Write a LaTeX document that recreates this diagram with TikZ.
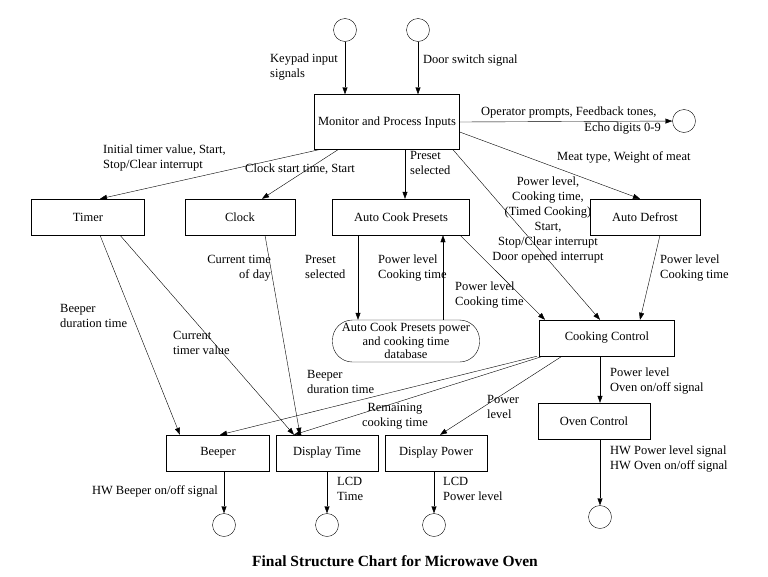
\documentclass[tikz,border=0pt]{standalone}
\usepackage{fontspec}
\setmainfont{Liberation Serif}
\usetikzlibrary{arrows.meta}
\begin{document}
\begin{tikzpicture}[x=1pt,y=-1pt,font=\fontsize{12.5}{15}\selectfont,
	>={Triangle[length=7pt,width=5pt]},
	proc/.style={draw,minimum height=36pt,inner sep=2pt},
	term/.style={draw,circle,minimum size=23pt,inner sep=0pt},
	lbl/.style={align=left,anchor=north west,inner sep=0pt}]
	\useasboundingbox (0,0) rectangle (768,576);
	
	\node[term] (kin) at (345,30) {};
	\node[term] (din) at (418,30) {};
	\node[term] (opr) at (684,121) {};
	\node[proc,minimum width=145pt,minimum height=55pt] (mon) at (387,122) {Monitor and Process Inputs};
	\node[proc,minimum width=113pt] (tim) at (88,217) {Timer};
	\node[proc,minimum width=110pt] (clk) at (240,217) {Clock};
	\node[proc,minimum width=137pt] (acp) at (401,217) {Auto Cook Presets};
	\node[proc,minimum width=110pt] (adf) at (645,217) {Auto Defrost};
	\node[draw,rounded corners=20pt,minimum width=147pt,minimum height=42pt,align=center,inner sep=0pt,font=\fontsize{12.5}{13.5}\selectfont] (db) at (406,341) {Auto Cook Presets power\\and cooking time\\database};
	\node[proc,minimum width=135pt] (cc) at (607,338) {Cooking Control};
	\node[proc,minimum width=112pt] (oc) at (594,421) {Oven Control};
	\node[proc,minimum width=103pt] (bp) at (218,453) {Beeper};
	\node[proc,minimum width=102pt] (dt) at (327,453) {Display Time};
	\node[proc,minimum width=102pt] (dp) at (436,453) {Display Power};
	\node[term] (bpo) at (224,525) {};
	\node[term] (dto) at (327,525) {};
	\node[term] (dpo) at (434,525) {};
	\node[term] (oco) at (600,517) {};
	
	\draw[->] (kin) -- (kin |- mon.north);
	\draw[->] (din) -- (din |- mon.north);
	\draw[->] (mon.east) -- (opr);
	\draw[->] ([xshift=-68pt]mon.south) -- ([xshift=12pt]tim.north);
	\draw[->] ([xshift=-49pt]mon.south) -- ([xshift=22pt]clk.north);
	\draw[->] ([xshift=18pt]mon.south) -- ([xshift=4pt]acp.north);
	\draw[->] ([xshift=66pt]mon.south) -- ([xshift=-7pt]cc.north);
	\draw[->] ([yshift=-10pt]mon.east) -- ([xshift=-5pt]adf.north);
	\draw[->] ([xshift=12pt]tim.south) -- ([xshift=-38pt]bp.north);
	\draw[->] ([xshift=32pt]tim.south) -- ([xshift=-33pt]dt.north);
	\draw[->] ([xshift=25pt]clk.south) -- ([xshift=-27pt]dt.north);
	\draw[->] ([xshift=-43pt]acp.south) -- ([xshift=-48pt]db.north);
	\draw[->] ([xshift=37pt]db.north) -- ([xshift=42pt]acp.south);
	\draw[->] ([xshift=59pt]acp.south) -- ([xshift=-62pt]cc.north);
	\draw[->] ([xshift=15pt]adf.south) -- ([xshift=33pt]cc.north);
	\draw[->] ([xshift=-70pt]cc.south) -- ([xshift=2pt]bp.north);
	\draw[->] ([xshift=-64pt]cc.south) -- ([xshift=-33pt]dt.north);
	\draw[->] ([xshift=-45pt]cc.south) -- ([xshift=4pt]dp.north);
	\draw[->] ([xshift=-7pt]cc.south) -- ([xshift=6pt]oc.north);
	\draw[->] ([xshift=6pt]oc.south) -- (oco);
	\draw[->] ([xshift=6pt]bp.south) -- (bpo);
	\draw[->] (dt.south) -- (dto);
	\draw[->] ([xshift=-2pt]dp.south) -- (dpo);
	
	% labels
	\node[lbl] at (270,54) {Keypad input\\signals};
	\node[lbl] at (423,55) {Door switch signal};
	\node[lbl] at (481,107) {Operator prompts, Feedback tones,};
	\node[lbl,anchor=north east,align=right] at (661,123) {Echo digits 0-9};
	\node[lbl] at (103,145) {Initial timer value, Start,\\Stop/Clear interrupt};
	\node[lbl] at (245,164) {Clock start time, Start};
	\node[lbl] at (410,151) {Preset\\selected};
	\node[lbl,align=center,anchor=north] at (548,177) {Power level,\\Cooking time,\\(Timed Cooking)\\Start,\\Stop/Clear interrupt\\Door opened interrupt};
	\node[lbl] at (557,151) {Meat type, Weight of meat};
	\node[lbl] at (60,304) {Beeper\\duration time};
	\node[lbl] at (173,331) {Current\\timer value};
	\node[lbl,align=right,anchor=north east] at (271,255) {Current time\\of day};
	\node[lbl] at (305,255) {Preset\\selected};
	\node[lbl] at (378,255) {Power level\\Cooking time};
	\node[lbl] at (455,282) {Power level\\Cooking time};
	\node[lbl] at (660,255) {Power level\\Cooking time};
	\node[lbl] at (307,370) {Beeper\\duration time};
	\node[lbl,align=center,anchor=north] at (395,403) {Remaining\\cooking time};
	\node[lbl] at (487,395) {Power\\level};
	\node[lbl] at (610,368) {Power level\\Oven on/off signal};
	\node[lbl] at (610,446) {HW Power level signal\\HW Oven on/off signal};
	\node[lbl,anchor=north east,align=right] at (218,485) {HW Beeper on/off signal};
	\node[lbl] at (337,477) {LCD\\Time};
	\node[lbl] at (443,477) {LCD\\Power level};
	\node[font=\fontsize{15.5}{18}\selectfont\bfseries] (ttl) at (395,561) {Final Structure Chart for Microwave Oven};
\end{tikzpicture}
\end{document}
